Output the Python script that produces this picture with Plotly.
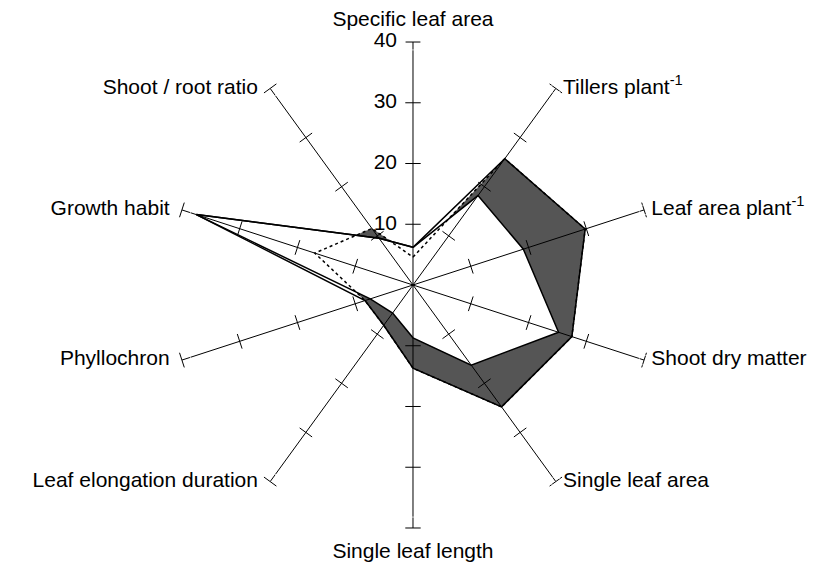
import plotly.graph_objects as go

categories = [
    "Specific leaf area",
    "Tillers plant<sup>-1</sup>",
    "Leaf area plant<sup>-1</sup>",
    "Shoot dry matter",
    "Single leaf area",
    "Single leaf length",
    "Leaf elongation duration",
    "Phyllochron",
    "Growth habit",
    "Shoot / root ratio",
]
label_positions = [
    "top center", "middle right", "middle right", "middle right", "middle right",
    "bottom center", "middle left", "middle left", "middle left", "middle left",
]
label_pad = [16, 10, 10, 10, 10, 22, 18, 18, 18, 18]

# outer solid outline
series_outer = [6.2, 25.7, 29.8, 27.5, 24.8, 13.7, 8.2, 8.3, 37.5, 9.5]
# inner solid outline (white filled)
series_inner = [6.2, 18.2, 19.1, 25.2, 16.3, 8.7, 5.7, 7.4, 37.5, 9.5]
# dotted outline (dark filled area)
series_dotted = [4.6, 25.7, 29.8, 27.5, 24.8, 13.7, 8.2, 8.3, 17.0, 11.5]

tick_values = [10, 20, 30, 40]
tick_labels = ["10", "20", "30", "40"]
axis_max = 40

FONT = "Arial, Liberation Sans, sans-serif"
FS = 21


def closed(vals):
    return list(vals) + [vals[0]]


theta_closed = closed(categories)

fig = go.Figure()

# dark filled area
fig.add_trace(go.Scatterpolar(
    r=closed(series_dotted), theta=theta_closed, mode="lines",
    fill="toself", fillcolor="#555555", line=dict(color="#555555", width=0.5),
    hoverinfo="skip"))

# inner white polygon
fig.add_trace(go.Scatterpolar(
    r=closed(series_inner), theta=theta_closed, mode="lines",
    fill="toself", fillcolor="white", line=dict(color="black", width=1.5),
    hoverinfo="skip"))

# outer outline
fig.add_trace(go.Scatterpolar(
    r=closed(series_outer), theta=theta_closed, mode="lines",
    line=dict(color="black", width=1.5), hoverinfo="skip"))

# spokes
sp_r, sp_t = [], []
for c in categories:
    sp_r += [0, axis_max, None]
    sp_t += [c, c, None]
fig.add_trace(go.Scatterpolar(
    r=sp_r, theta=sp_t, mode="lines", connectgaps=False,
    line=dict(color="black", width=1), hoverinfo="skip"))

# tick marks on every spoke
tk_r, tk_t, tk_a = [], [], []
for i, c in enumerate(categories):
    for v in tick_values:
        tk_r.append(v)
        tk_t.append(c)
        tk_a.append(36 * i)
fig.add_trace(go.Scatterpolar(
    r=tk_r, theta=tk_t, mode="markers",
    marker=dict(symbol="line-ew", size=11, angle=tk_a,
                line=dict(color="black", width=1)),
    hoverinfo="skip"))

# dotted outline
fig.add_trace(go.Scatterpolar(
    r=closed(series_dotted), theta=theta_closed, mode="lines",
    line=dict(color="black", width=1.5, dash="dot"), hoverinfo="skip"))

# radial tick labels on the top axis
fig.add_trace(go.Scatterpolar(
    r=tick_values, theta=[categories[0]] * len(tick_values),
    mode="markers+text", text=tick_labels, textposition="middle left",
    marker=dict(size=24, color="rgba(0,0,0,0)"),
    textfont=dict(family=FONT, size=FS, color="black"),
    cliponaxis=False, hoverinfo="skip"))

# category labels at the spoke ends
fig.add_trace(go.Scatterpolar(
    r=[axis_max] * len(categories), theta=categories,
    mode="markers+text", text=categories, textposition=label_positions,
    marker=dict(size=label_pad, color="rgba(0,0,0,0)"),
    textfont=dict(family=FONT, size=FS, color="black"),
    cliponaxis=False, hoverinfo="skip"))

fig.update_layout(
    width=822, height=566,
    margin=dict(l=0, r=0, t=0, b=0),
    paper_bgcolor="white",
    showlegend=False,
    font=dict(family=FONT, size=FS, color="black"),
    polar=dict(
        domain=dict(x=[0.1971, 0.7883], y=[0.0813, 0.9399]),
        bgcolor="white",
        radialaxis=dict(
            range=[0, axis_max], showgrid=False, showline=False,
            ticks="", showticklabels=False, angle=90,
        ),
        angularaxis=dict(
            type="category", categoryarray=categories, rotation=90,
            direction="clockwise", showgrid=False, showline=False,
            ticks="", showticklabels=False,
        ),
    ),
)

fig.write_html("out.html")
